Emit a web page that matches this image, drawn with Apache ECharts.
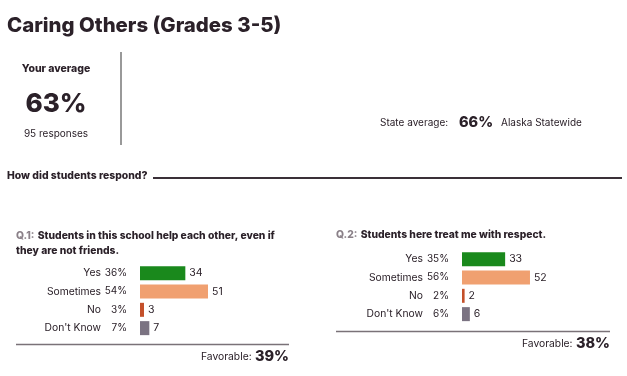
<!DOCTYPE html>
<html><head><meta charset="utf-8">
<script src="https://cdn.jsdelivr.net/npm/echarts@6/dist/echarts.min.js"></script>
<style>html,body{margin:0;padding:0;background:#fff}#c{width:627px;height:376px}</style>
</head><body><div id="c"></div>
<script>
const categories = ['Yes', 'Sometimes', 'No', "Don't Know"];
const q1Counts = [34, 51, 3, 7];
const q1Pct = ['36%', '54%', '3%', '7%'];
const q2Counts = [33, 52, 2, 6];
const q2Pct = ['35%', '56%', '2%', '6%'];
const q1Title = ['Students in this school help each other, even if', 'they are not friends.'];
const q2Title = ['Students here treat me with respect.'];
const yourAverage = '63%';
const responses = '95 responses';
const stateAverage = '66%';
const q1Favorable = '39%';
const q2Favorable = '38%';

const barColors = ['#1a891c', '#f0a070', '#c4502a', '#7b7382'];
const FONT = 'Inter';
const DARK = '#2b2129';
const HEAVY = 800;

const chart = echarts.init(document.getElementById('c'), null, {renderer: 'canvas'});

function yAxisFor(gridIndex, pcts) {
  return {
    type: 'category', gridIndex, data: categories, inverse: true,
    axisLine: {show: false}, axisTick: {show: false},
    axisLabel: {
      margin: 13,
      formatter: (v, i) => '{n|' + v + '}{p|' + pcts[i] + '}',
      rich: {
        n: {fontFamily: FONT, fontSize: 10.3, color: DARK, align: 'right'},
        p: {fontFamily: FONT, fontSize: 10, color: DARK, width: 26, align: 'right'}
      }
    }
  };
}
function xAxisFor(gridIndex, max) {
  return {type: 'value', gridIndex, min: 0, max, show: false, splitLine: {show: false}};
}
function seriesFor(idx, counts) {
  return {
    type: 'bar', xAxisIndex: idx, yAxisIndex: idx, barWidth: 14,
    data: counts.map((v, i) => ({value: v, itemStyle: {color: barColors[i]}})),
    label: {show: true, position: 'right', distance: 4, fontFamily: FONT, fontSize: 10.5, color: DARK},
    silent: true
  };
}
function txt(x, y, text, size, weight, color, align, extra) {
  return Object.assign({type: 'text', x, y, style: {text, fontFamily: FONT, fontSize: size, fontWeight: weight, fill: color || DARK, align: align || 'left', verticalAlign: 'middle'}}, extra || {});
}
function richQ(label, body) {
  return {
    rich: {
      g: {fill: '#8a8088', fontFamily: FONT, fontSize: 10.3, fontWeight: HEAVY},
      t: {fill: DARK, fontFamily: FONT, fontSize: 10.3, fontWeight: HEAVY}
    },
    text: '{g|' + label + '} {t|' + body + '}', verticalAlign: 'middle'
  };
}
function richFav(val) {
  return {
    rich: {
      a: {fill: DARK, fontFamily: FONT, fontSize: 10.3},
      b: {fill: DARK, fontFamily: FONT, fontSize: 14.5, fontWeight: HEAVY}
    },
    text: '{a|Favorable:} {b|' + val + '}', align: 'right', verticalAlign: 'middle'
  };
}

const graphics = [
  txt(7, 26, 'Caring Others (Grades 3-5)', 20.4, HEAVY),
  txt(56, 69, 'Your average', 10.5, HEAVY, null, 'center'),
  txt(56, 104, yourAverage, 26, HEAVY, null, 'center'),
  txt(56, 134, responses, 10, 'normal', null, 'center'),
  {type: 'line', shape: {x1: 121, y1: 52, x2: 121, y2: 145}, style: {stroke: '#555', lineWidth: 1.2}},
  txt(380, 123, 'State average:', 10, 'normal'),
  txt(459, 123, stateAverage, 14.5, HEAVY),
  txt(501, 123, 'Alaska Statewide', 10, 'normal'),
  txt(7, 176, 'How did students respond?', 10.4, HEAVY),
  {type: 'line', shape: {x1: 153, y1: 178, x2: 622, y2: 178}, style: {stroke: '#3a3038', lineWidth: 2}},
  {type: 'text', x: 16, y: 236, style: richQ('Q.1:', q1Title[0])},
  txt(16, 251, q1Title[1], 10.3, HEAVY),
  {type: 'text', x: 336, y: 235, style: richQ('Q.2:', q2Title[0])},
  {type: 'line', shape: {x1: 16, y1: 344.5, x2: 289, y2: 344.5}, style: {stroke: '#7a7278', lineWidth: 1.5}},
  {type: 'line', shape: {x1: 336, y1: 331.5, x2: 610, y2: 331.5}, style: {stroke: '#7a7278', lineWidth: 1.5}},
  {type: 'text', x: 289, y: 357, style: richFav(q1Favorable)},
  {type: 'text', x: 610, y: 344, style: richFav(q2Favorable)}
];

chart.setOption({
  animation: false,
  backgroundColor: '#fff',
  grid: [
    {left: 140, top: 264, width: 100, height: 73.3},
    {left: 462, top: 250, width: 100, height: 73.3}
  ],
  xAxis: [xAxisFor(0, 75), xAxisFor(1, 76.5)],
  yAxis: [yAxisFor(0, q1Pct), yAxisFor(1, q2Pct)],
  series: [seriesFor(0, q1Counts), seriesFor(1, q2Counts)],
  graphic: graphics
});
</script></body></html>
